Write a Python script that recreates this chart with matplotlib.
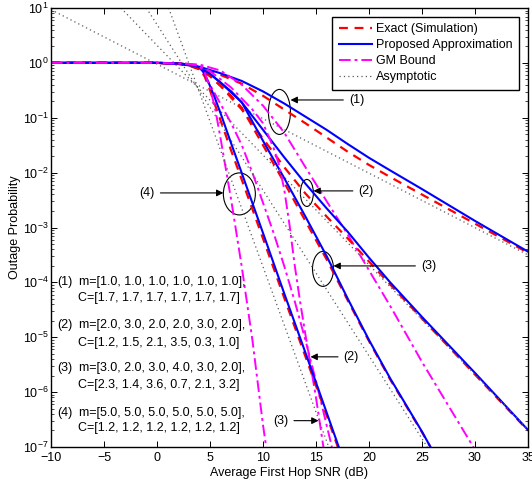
import numpy as np
import matplotlib
matplotlib.use("Agg")
from matplotlib import pyplot as plt
from matplotlib.patches import Ellipse

plt.rcParams['font.family'] = ['Liberation Sans', 'DejaVu Sans']
plt.rcParams['font.size'] = 9
plt.rcParams['mathtext.default'] = 'regular'

# ---- values (SNR in dB, outage as log10) ----
snr1 = [-10, 0, 2, 4, 6, 8, 10, 12, 14, 16, 18, 20, 22, 25, 30, 35]
exact1 = [0, 0, -0.02, -0.08, -0.22, -0.38, -0.6, -0.85, -1.1, -1.36, -1.62, -1.86, -2.08, -2.4, -2.93, -3.46]
approx1 = [0, 0, -0.02, -0.07, -0.19, -0.33, -0.52, -0.74, -0.98, -1.22, -1.48, -1.73, -1.96, -2.3, -2.88, -3.44]
snr_gm1 = [-10, 0, 2, 4, 6, 8, 10, 12, 14, 16, 18, 20, 22, 25, 30]
gm1 = [0, 0, -0.01, -0.03, -0.14, -0.4, -0.78, -1.27, -1.9, -2.52, -3.13, -3.78, -4.43, -5.45, -7.05]
snr_as1 = [-10, 35]
asym1 = [0.97, -3.5]

snr2 = [-10, 0, 2, 3, 4, 5, 6, 8, 10, 12, 14, 16, 18, 20, 22, 25, 30, 35]
exact2 = [0, 0, -0.01, -0.05, -0.12, -0.24, -0.42, -0.85, -1.38, -1.9, -2.38, -2.8, -3.2, -3.62, -4.04, -4.66, -5.68, -6.7]
approx2 = [0, 0, -0.01, -0.04, -0.1, -0.2, -0.36, -0.72, -1.22, -1.72, -2.2, -2.65, -3.08, -3.55, -4.0, -4.63, -5.65, -6.69]
snr_gm2 = [-10, 0, 2, 3, 4, 5, 6, 7, 8, 9, 10, 11, 12, 13, 14, 15, 16, 16.5]
gm2 = [0, 0, -0.01, -0.02, -0.06, -0.4, -0.75, -1.1, -1.5, -2.0, -2.55, -3.1, -3.7, -4.35, -5.05, -5.8, -6.6, -7.0]
snr_as2 = [-3.4, 35]
asym2 = [1.0, -6.68]

snr3 = [-10, 0, 2, 3, 4, 5, 6, 7, 8, 10, 12, 14, 16, 18, 20, 22, 25, 25.8]
exact3 = [0, 0, -0.01, -0.04, -0.1, -0.24, -0.42, -0.6, -0.82, -1.5, -2.18, -2.88, -3.58, -4.33, -5.07, -5.77, -6.73, -7.0]
approx3 = [0, 0, -0.01, -0.03, -0.08, -0.2, -0.36, -0.52, -0.72, -1.42, -2.1, -2.8, -3.52, -4.3, -5.05, -5.75, -6.72, -7.0]
snr_gm3 = [-10, 0, 2, 3, 4, 5, 6, 7, 8, 9, 10, 11, 11.5, 12, 12.5, 13, 13.5, 14, 15, 15.7]
gm3 = [0, 0, -0.01, -0.02, -0.05, -0.15, -0.3, -0.45, -0.65, -0.85, -1.1, -1.55, -1.85, -2.3, -2.95, -3.7, -4.35, -4.95, -6.1, -7.0]
snr_as3 = [-1.0, 25.5]
asym3 = [1.0, -7.0]

snr4 = [-10, 0, 2, 3, 4, 4.5, 5, 5.5, 6, 7, 8, 10, 12, 14, 16, 17.15]
exact4 = [0, 0, -0.01, -0.03, -0.1, -0.25, -0.5, -0.78, -1.05, -1.6, -2.13, -3.2, -4.28, -5.35, -6.42, -7.05]
approx4 = [0, 0, -0.01, -0.03, -0.08, -0.2, -0.42, -0.66, -0.92, -1.47, -2.01, -3.1, -4.2, -5.28, -6.37, -7.0]
snr_gm4 = [-10, 0, 2, 3, 4, 4.5, 5, 5.5, 6, 7, 8, 9, 10, 10.3]
gm4 = [0, 0, -0.01, -0.02, -0.06, -0.18, -0.45, -0.85, -1.38, -2.5, -3.72, -5.05, -6.6, -7.0]
snr_as4 = [1.1, 16.2]
asym4 = [1.0, -7.0]

groups = [
    (snr1, exact1, approx1, snr_gm1, gm1, snr_as1, asym1),
    (snr2, exact2, approx2, snr_gm2, gm2, snr_as2, asym2),
    (snr3, exact3, approx3, snr_gm3, gm3, snr_as3, asym3),
    (snr4, exact4, approx4, snr_gm4, gm4, snr_as4, asym4),
]

case_labels = ['(1)', '(2)', '(3)', '(4)']
m_text = ['m=[1.0, 1.0, 1.0, 1.0, 1.0, 1.0],',
          'm=[2.0, 3.0, 2.0, 2.0, 3.0, 2.0],',
          'm=[3.0, 2.0, 3.0, 4.0, 3.0, 2.0],',
          'm=[5.0, 5.0, 5.0, 5.0, 5.0, 5.0],']
c_text = ['C=[1.7, 1.7, 1.7, 1.7, 1.7, 1.7]',
          'C=[1.2, 1.5, 2.1, 3.5, 0.3, 1.0]',
          'C=[2.3, 1.4, 3.6, 0.7, 2.1, 3.2]',
          'C=[1.2, 1.2, 1.2, 1.2, 1.2, 1.2]']

fig = plt.figure(figsize=(5.32, 4.84), dpi=100)
ax = fig.add_axes([51 / 532, 37 / 484, 477 / 532, 439 / 484])

for snr, ex, ap, sg, g, sa, asy in groups:
    ax.semilogy(snr, 10.0 ** np.array(ex), color='#ff0000', ls=(0, (4, 3)), lw=1.6)
    ax.semilogy(snr, 10.0 ** np.array(ap), color='#0000ff', ls='-', lw=1.5)
    ax.semilogy(sg, 10.0 ** np.array(g), color='#ff00ff', ls=(0, (6, 2, 1.5, 2)), lw=1.4)
    ax.semilogy(sa, 10.0 ** np.array(asy), color='0.35', ls=(0, (1, 2.5)), lw=0.9)

ax.set_xlim(-10, 35)
ax.set_ylim(1e-7, 1e1)
ax.set_xticks(range(-10, 36, 5))
ax.set_xticklabels(['\u221210', '\u22125', '0', '5', '10', '15', '20', '25', '30', '35'])
ax.tick_params(which='both', direction='in', top=True, right=True, labelsize=9)
ax.tick_params(which='major', length=4.5, width=0.7)
ax.tick_params(which='minor', length=2.5, width=0.5)
ax.tick_params(axis='y', pad=1.5)
for sp in ax.spines.values():
    sp.set_linewidth(1.0)
ax.set_xlabel('Average First Hop SNR (dB)', fontsize=9, labelpad=2)
ax.set_ylabel('Outage Probability', fontsize=9)
ax.yaxis.set_label_coords(-0.062, 0.5)

# legend
h = [plt.Line2D([], [], color='#ff0000', ls=(0, (4, 3)), lw=1.6),
     plt.Line2D([], [], color='#0000ff', ls='-', lw=1.5),
     plt.Line2D([], [], color='#ff00ff', ls=(0, (6, 2, 1.5, 2)), lw=1.4),
     plt.Line2D([], [], color='0.35', ls=(0, (1, 2.5)), lw=0.9)]
leg = ax.legend(h, ['Exact (Simulation)', 'Proposed Approximation', 'GM Bound', 'Asymptotic'],
                loc='upper right', fontsize=9, handlelength=2.7, handletextpad=0.3,
                labelspacing=0.32, borderaxespad=0.72, fancybox=False, framealpha=1,
                edgecolor='black', borderpad=0.5)
leg.get_frame().set_linewidth(1.0)

# ellipses marking each group (centre in data, size in axes fraction)
ell_centre = [(11.55, 10 ** -0.894), (14.14, 10 ** -2.37), (15.66, 10 ** -3.754), (7.77, 10 ** -2.388)]
ell_size = [(22 / 477, 45 / 439), (13 / 477, 27 / 439), (21 / 477, 35 / 439), (32 / 477, 42 / 439)]
for c, s in zip(ell_centre, ell_size):
    xy = ax.transAxes.inverted().transform(ax.transData.transform(c))
    ax.add_patch(Ellipse(xy, s[0], s[1], transform=ax.transAxes, fill=False, ec='black', lw=0.8))

arrow = dict(arrowstyle='-|>', color='black', lw=0.8, mutation_scale=10, shrinkA=2, shrinkB=0)
ax.annotate('(1)', xy=(12.6, 10 ** -0.676), xytext=(18.1, 10 ** -0.676), va='center', ha='left', arrowprops=arrow)
ax.annotate('(2)', xy=(14.76, 10 ** -2.333), xytext=(19.0, 10 ** -2.333), va='center', ha='left', arrowprops=arrow)
ax.annotate('(3)', xy=(16.65, 10 ** -3.70), xytext=(24.9, 10 ** -3.70), va='center', ha='left', arrowprops=arrow)
ax.annotate('(4)', xy=(6.26, 10 ** -2.37), xytext=(-0.2, 10 ** -2.37), va='center', ha='right', arrowprops=arrow)
ax.annotate('(2)', xy=(14.48, 10 ** -5.357), xytext=(17.6, 10 ** -5.357), va='center', ha='left', arrowprops=arrow)
ax.annotate('(3)', xy=(15.24, 10 ** -6.52), xytext=(12.4, 10 ** -6.52), va='center', ha='right', arrowprops=arrow)

# parameter text block
m_y = [-3.99, -4.77, -5.56, -6.38]
c_y = [-4.28, -5.10, -5.87, -6.65]
for lab, mt, ct, ym, yc in zip(case_labels, m_text, c_text, m_y, c_y):
    ax.text(-9.43, 10 ** ym, lab, va='center', ha='left')
    ax.text(-7.4, 10 ** ym, mt, va='center', ha='left')
    ax.text(-7.5, 10 ** yc, ct, va='center', ha='left')

fig.savefig('out.png', dpi=100)
